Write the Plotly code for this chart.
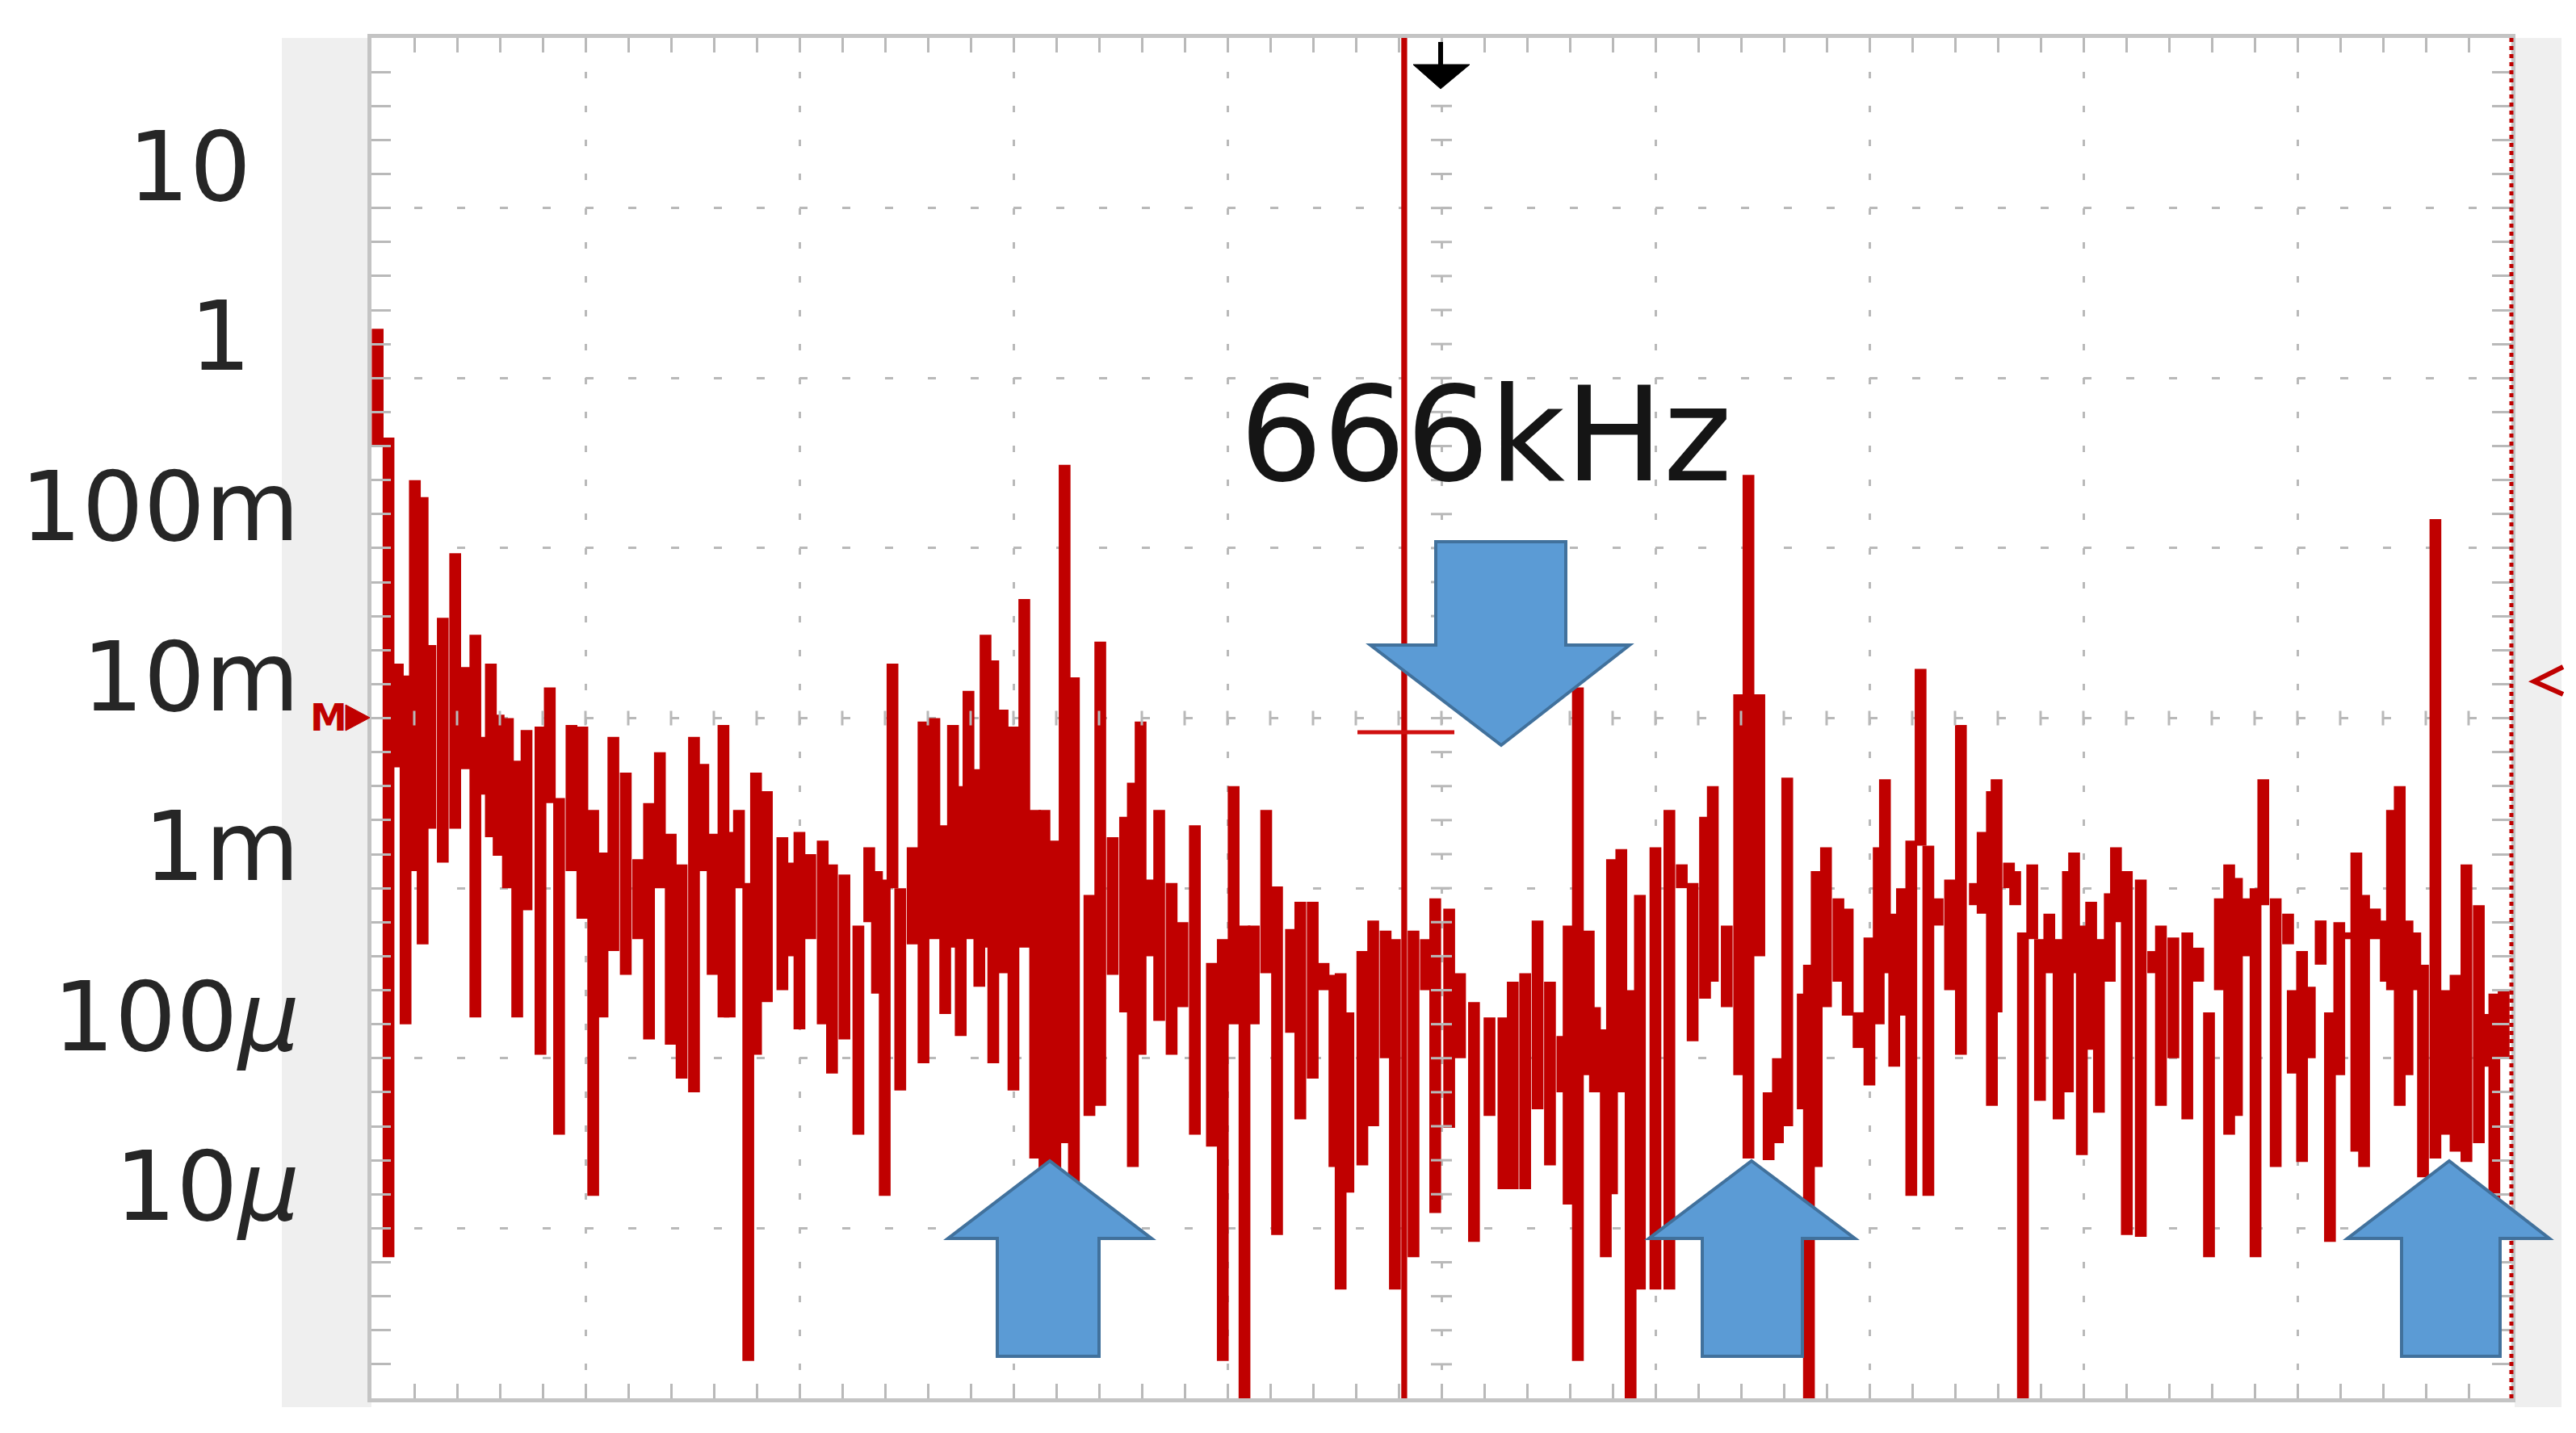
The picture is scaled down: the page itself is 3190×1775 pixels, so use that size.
import plotly.graph_objects as go

# ---------------- data ----------------
freq_khz = [
    4, 11, 17, 22, 28, 33, 38, 46, 54, 60,
    67, 73, 77, 82, 88, 94, 100, 109, 115, 121,
    129, 136, 143, 149, 156, 164, 172, 179, 186, 193,
    200, 208, 214, 220, 227, 231, 237, 243, 248, 255,
    265, 271, 276, 283, 291, 297, 305, 314, 321, 326,
    331, 336, 341, 349, 356, 363, 370, 375, 380, 385,
    392, 396, 401, 407, 414, 421, 428, 434, 441, 447,
    453, 463, 470, 478, 486, 491, 496, 501, 508, 516,
    523, 531, 542, 549, 556, 563, 569, 577, 584, 593,
    599, 607, 614, 621, 625, 630, 639, 646, 654, 660,
    672, 680, 686, 695, 702, 711, 721, 730, 736, 744,
    752, 760, 768, 772, 778, 785, 789, 796, 800, 806,
    812, 818, 828, 837, 845, 852, 860, 865, 874, 882,
    888, 895, 901, 907, 913, 923, 927, 932, 938, 946,
    952, 959, 966, 972, 976, 982, 987, 993, 999, 1004,
    1010, 1018, 1025, 1034, 1039, 1045, 1048, 1056, 1060, 1065,
    1071, 1076, 1082, 1088, 1094, 1098, 1103, 1109, 1114, 1121,
    1125, 1132, 1141, 1149, 1154, 1162, 1171, 1178, 1185, 1192,
    1198, 1203, 1209, 1215, 1220, 1228, 1236, 1239, 1245, 1250,
    1257, 1263, 1269, 1275, 1280, 1285, 1292, 1299, 1303, 1308,
    1313, 1318, 1323, 1331, 1337, 1344, 1351, 1359, 1364, 1369,
    1375,
]

# upper end of each FFT column, dBV
level_hi_dbv = [
    5.8, -7.0, -33.6, -35.0, -12.0, -14.0, -31.4, -28.2, -20.6, -34.0,
    -30.2, -42.2, -33.6, -39.6, -40.0, -45.0, -41.4, -41.0, -36.4, -49.4,
    -40.8, -41.0, -50.8, -55.8, -42.2, -46.4, -56.6, -50.0, -44.0, -53.6,
    -57.2, -42.2, -45.4, -53.6, -40.8, -53.4, -50.8, -59.4, -46.4, -48.6,
    -54.0, -57.0, -53.4, -56.0, -54.4, -57.2, -58.4, -64.4, -55.2, -58.0,
    -59.0, -33.6, -60.0, -55.2, -40.4, -40.0, -52.6, -40.8, -48.0, -36.8,
    -46.0, -30.2, -33.2, -39.0, -41.0, -26.0, -50.8, -50.8, -54.4, -10.2,
    -35.2, -60.8, -31.0, -54.0, -51.6, -47.6, -40.4, -59.0, -50.8, -59.4,
    -64.0, -52.6, -68.8, -66.0, -48.0, -64.4, -64.4, -50.8, -59.8, -64.8,
    -61.6, -61.6, -68.8, -70.2, -70.0, -74.6, -67.4, -63.8, -65.0, -66.0,
    -65.0, -66.0, -61.2, -62.4, -70.0, -73.4, -75.2, -75.2, -71.0, -70.0,
    -63.8, -71.0, -77.4, -64.4, -36.4, -65.0, -74.0, -76.6, -56.6, -55.4,
    -72.0, -60.8, -55.2, -50.8, -57.2, -59.4, -51.6, -48.0, -64.4, -37.2,
    -11.4, -37.2, -84.0, -80.0, -47.0, -72.4, -69.0, -58.0, -55.2, -61.2,
    -62.4, -74.6, -65.8, -55.2, -47.2, -63.0, -60.0, -54.4, -34.2, -55.0,
    -61.2, -59.0, -40.8, -59.4, -53.4, -48.6, -47.2, -57.0, -58.0, -65.2,
    -57.2, -66.0, -63.0, -66.0, -58.0, -55.8, -64.4, -61.6, -66.0, -60.6,
    -55.2, -58.0, -59.0, -67.4, -64.4, -65.8, -65.2, -67.0, -74.6, -61.2,
    -57.2, -58.8, -61.2, -60.0, -47.2, -61.2, -63.0, -72.0, -67.4, -71.6,
    -63.8, -74.6, -64.0, -65.2, -55.8, -60.8, -62.4, -63.8, -50.8, -48.0,
    -63.8, -65.2, -69.0, -16.6, -72.0, -70.2, -57.2, -62.0, -74.8, -72.4,
    -72.0,
]

# lower end of each FFT column, dBV
level_lo_dbv = [
    -8.0, -103.4, -45.8, -76.0, -58.0, -66.6, -53.0, -57.0, -53.0, -46.0,
    -75.2, -49.0, -54.0, -56.2, -60.0, -75.2, -62.6, -79.6, -50.0, -89.0,
    -58.0, -63.6, -96.2, -75.2, -67.4, -70.2, -66.0, -77.8, -60.0, -78.4,
    -82.4, -84.0, -58.0, -70.2, -75.2, -75.2, -60.0, -115.6, -79.6, -73.4,
    -72.0, -68.0, -76.6, -66.0, -76.0, -81.8, -77.8, -89.0, -64.0, -72.4,
    -96.2, -60.0, -83.8, -66.6, -80.6, -66.0, -74.8, -67.0, -77.4, -66.0,
    -71.6, -67.0, -80.6, -70.0, -83.8, -67.0, -91.8, -93.2, -94.0, -90.0,
    -97.0, -86.8, -85.6, -70.2, -74.6, -92.8, -79.6, -68.0, -75.6, -79.6,
    -74.0, -89.0, -90.4, -115.6, -76.0, -120.0, -76.0, -70.0, -100.8, -77.0,
    -87.2, -82.4, -72.0, -92.8, -107.2, -95.8, -92.6, -88.0, -80.0, -107.2,
    -103.4, -72.0, -98.2, -88.2, -80.0, -101.6, -86.8, -95.4, -95.4, -95.4,
    -86.0, -92.6, -84.0, -97.2, -115.6, -82.0, -84.0, -103.4, -96.0, -84.0,
    -120.0, -107.2, -107.2, -107.2, -60.0, -78.0, -73.0, -71.0, -74.0, -82.0,
    -91.8, -68.0, -92.0, -90.0, -88.0, -86.0, -120.0, -92.8, -74.0, -71.0,
    -75.0, -78.8, -83.2, -76.0, -70.0, -81.0, -75.0, -96.2, -55.0, -96.2,
    -64.4, -72.0, -79.6, -62.0, -63.0, -85.6, -74.6, -60.0, -62.0, -120.0,
    -66.0, -85.0, -70.0, -87.2, -84.0, -70.0, -91.4, -79.0, -86.4, -71.0,
    -64.0, -100.8, -101.0, -70.0, -85.6, -80.0, -87.2, -71.0, -103.4, -72.0,
    -89.0, -86.8, -68.0, -103.4, -62.0, -92.8, -66.6, -81.8, -92.2, -80.0,
    -69.0, -101.6, -82.0, -66.0, -91.0, -92.8, -66.0, -71.0, -72.0, -85.6,
    -82.0, -72.0, -94.0, -91.8, -89.0, -91.0, -92.2, -90.0, -81.0, -104.0,
    -80.0,
]

carrier_khz = [666]
carrier_hi_dbv = [40.0]
carrier_lo_dbv = [-120.0]

ytick_vals = [10, 1, 0.1, 0.01, 1e-3, 1e-4, 1e-5]
ytick_text = ["10\u2002", "1\u2002", "100m", "10m", "1m", "100<i>μ</i>", "10<i>μ</i>"]

annotation_text = "666kHz"

assert len(freq_khz) == len(level_hi_dbv) == len(level_lo_dbv)

# ---------------- build figure ----------------
def dbv_to_volt(d):
    return 10 ** (d / 20.0)

hi_v = [dbv_to_volt(v) for v in level_hi_dbv]
lo_v = [dbv_to_volt(v) for v in level_lo_dbv]
c_hi = [dbv_to_volt(v) for v in carrier_hi_dbv]
c_lo = [dbv_to_volt(v) for v in carrier_lo_dbv]

RED = "#c00000"
GRID = "#b9b9b9"

fig = go.Figure()
fig.add_trace(go.Bar(
    x=freq_khz, y=[h - l for h, l in zip(hi_v, lo_v)], base=lo_v,
    width=7.6, marker=dict(color=RED, line=dict(width=0)),
    hoverinfo="skip", name="spectrum"))
fig.add_trace(go.Bar(
    x=carrier_khz, y=[h - l for h, l in zip(c_hi, c_lo)], base=c_lo,
    width=3.8, marker=dict(color=RED, line=dict(width=0)),
    hoverinfo="skip", name="carrier"))

# plot box in pixels
L, R, T, B = 452, 3102, 39, 1724
W, H = R - L, B - T

def px(x):
    return (x - L) / W

def py(y):
    return (B - y) / H

shapes = []
# grey side bands
shapes.append(dict(type="rect", xref="paper", yref="paper", x0=px(341), x1=px(L),
                   y0=py(1735), y1=py(T), fillcolor="#efefef", line=dict(width=0), layer="below"))
shapes.append(dict(type="rect", xref="paper", yref="paper", x0=px(3106), x1=px(3164),
                   y0=py(1735), y1=py(T), fillcolor="#efefef", line=dict(width=0), layer="below"))

# centre-cross sub-division ticks
for j in range(1, 40):
    yy = j / 40
    shapes.append(dict(type="line", xref="paper", yref="paper", x0=0.5 - 13 / W, x1=0.5 + 13 / W,
                       y0=yy, y1=yy, line=dict(color=GRID, width=3)))
for k in range(1, 50):
    xx = k / 50
    shapes.append(dict(type="line", xref="paper", yref="paper", x0=xx, x1=xx,
                       y0=0.5 - 9 / H, y1=0.5 + 9 / H, line=dict(color=GRID, width=3)))

# right-hand dotted red marker line
shapes.append(dict(type="line", xref="paper", yref="paper", x0=1, x1=1, y0=0, y1=1,
                   line=dict(color=RED, width=5, dash="dot")))
# cursor cross on the carrier
shapes.append(dict(type="line", xref="paper", yref="paper", x0=px(1673), x1=px(1793),
                   y0=py(899), y1=py(899), line=dict(color="#d01010", width=5)))

# black trigger arrow at the top
shapes.append(dict(type="line", xref="paper", yref="paper", x0=px(1776), x1=px(1776),
                   y0=py(44), y1=py(74), line=dict(color="black", width=6)))
shapes.append(dict(type="path", xref="paper", yref="paper",
                   path=f"M{px(1742)},{py(72)} L{px(1812)},{py(72)} L{px(1776)},{py(102)} Z",
                   fillcolor="black", line=dict(color="black", width=1)))

# ground marker  "M->" on the left
shapes.append(dict(type="path", xref="paper", yref="paper",
                   path=f"M{px(420)},{py(865)} L{px(450)},{py(881)} L{px(420)},{py(897)} Z",
                   fillcolor=RED, line=dict(color=RED, width=1)))
# partial marker on the right
shapes.append(dict(type="path", xref="paper", yref="paper",
                   path=f"M{px(3166)},{py(818)} L{px(3130)},{py(836)} L{px(3166)},{py(852)}",
                   line=dict(color=RED, width=6)))


def block_arrow(xl, xr, sl, sr, y_tip, y_neck, y_end, tip_x):
    pts = [(sl, y_end), (sr, y_end), (sr, y_neck), (xr, y_neck), (tip_x, y_tip),
           (xl, y_neck), (sl, y_neck)]
    path = "M" + " L".join(f"{px(a)},{py(b)}" for a, b in pts) + " Z"
    return dict(type="path", xref="paper", yref="paper", path=path,
                fillcolor="#5b9bd5", line=dict(color="#41719c", width=4))

# down arrow under the label
shapes.append(block_arrow(1689, 2010, 1770, 1931, 915, 791, 663, 1851))
# up arrows
shapes.append(block_arrow(1166, 1418, 1227, 1353, 1430, 1526, 1672, 1292))
shapes.append(block_arrow(2034, 2289, 2100, 2224, 1430, 1526, 1672, 2161))
shapes.append(block_arrow(2899, 3149, 2966, 3088, 1430, 1526, 1672, 3025))

annotations = [
    dict(text=annotation_text, xref="paper", yref="paper", x=px(1832), y=py(531),
         xanchor="center", yanchor="middle", showarrow=False,
         font=dict(family="DejaVu Sans", size=162, color="#151515")),
    dict(text="<b>M</b>", xref="paper", yref="paper", x=px(399), y=py(881),
         xanchor="center", yanchor="middle", showarrow=False,
         font=dict(family="DejaVu Sans", size=46, color=RED)),
]

minor_y = [10 ** (k + j / 5) for k in range(-6, 2) for j in range(1, 5)]

fig.update_layout(
    width=3190, height=1775,
    margin=dict(l=L, r=3190 - R, t=T, b=1775 - B, autoexpand=False),
    paper_bgcolor="white", plot_bgcolor="white",
    showlegend=False, barmode="overlay",
    shapes=shapes, annotations=annotations,
    xaxis=dict(
        range=[0, 1380], tick0=0, dtick=138, showticklabels=False, automargin=False,
        showgrid=True, gridcolor=GRID, gridwidth=3, griddash="8px,34.1px",
        ticks="inside", ticklen=18, tickwidth=3, tickcolor=GRID,
        minor=dict(tick0=0, dtick=27.6, ticks="inside", ticklen=18, tickwidth=3,
                   tickcolor=GRID, showgrid=False),
        showline=True, linecolor="#c4c4c4", linewidth=5, mirror="ticks", zeroline=False,
    ),
    yaxis=dict(
        type="log", range=[-6, 2], tickmode="array", tickvals=ytick_vals, ticktext=ytick_text,
        automargin=False,
        showgrid=True, gridcolor=GRID, gridwidth=3, griddash="10px,43px",
        ticks="inside", ticklen=24, tickwidth=3, tickcolor=GRID,
        minor=dict(tickmode="array", tickvals=minor_y, ticks="inside", ticklen=24,
                   tickwidth=3, tickcolor=GRID, showgrid=False),
        showline=True, linecolor="#c4c4c4", linewidth=5, mirror="ticks", zeroline=False,
        tickfont=dict(family="DejaVu Sans", size=120, color="#262626"),
        ticklabelstandoff=60, ticklabelshift=-52,
    ),
)

fig.write_html("out.html")
